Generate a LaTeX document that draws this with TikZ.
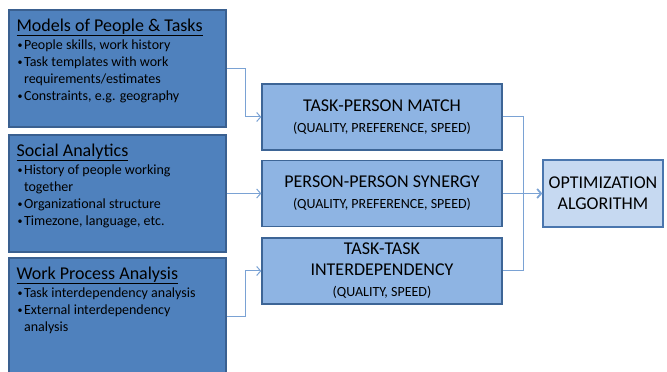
\documentclass[tikz,border=0pt]{standalone}
\usepackage{fontspec}
\setmainfont{Carlito}
\usepackage{tikz}
\usetikzlibrary{arrows.meta,positioning}

\definecolor{srcfill}{HTML}{4F81BD}
\definecolor{srcline}{HTML}{3A6090}
\definecolor{midfill}{HTML}{8EB4E3}
\definecolor{midline}{HTML}{3D6596}
\definecolor{optfill}{HTML}{C6D9F1}
\definecolor{optline}{HTML}{4A76AE}
\definecolor{wire}{HTML}{7AA2D4}

\newcommand{\bul}{\makebox[7.5pt][l]{\hspace{1pt}\raisebox{0.8pt}{\fontsize{10}{10}\selectfont\textbullet}}}
\newcommand{\cont}{\hspace*{7.5pt}}

\begin{document}
\begin{tikzpicture}[x=1pt,y=1pt,>={Straight Barb[length=4pt,width=9pt]},
  source/.style={draw=srcline,fill=srcfill,line width=1.3pt,
    minimum width=217pt,minimum height=117pt,inner sep=0pt},
  source text/.style={anchor=north west,align=left,inner sep=0pt,
    font=\fontsize{14}{17}\selectfont},
  factor/.style={draw=midline,fill=midfill,line width=1.3pt,
    minimum width=240pt,minimum height=66pt,align=center,
    font=\fontsize{18}{21}\selectfont},
  solver/.style={draw=optline,fill=optfill,line width=1.3pt,
    minimum width=120pt,minimum height=67pt,align=center,
    font=\fontsize{18}{21}\selectfont},
  link/.style={->,draw=wire,line width=1pt}]

  \useasboundingbox (0,0) rectangle (667,372);

  % input boxes on the left
  \node[source] (models) at (117.5,303.5) {};
  \node[source] (social) at (117.5,178.5) {};
  \node[source] (process) at (117.5,55.5) {};

  \node[source text] (models text) [below right=9pt and 8pt of models.north west]
    {{\fontsize{18}{21}\selectfont\underline{Models of People \& Tasks}}\\[1pt]
     \bul People skills, work history\\
     \bul Task templates with work\\
     \cont requirements/estimates\\
     \bul Constraints, e.g. geography};
  \node[source text] (social text) [below right=9pt and 8pt of social.north west]
    {{\fontsize{18}{21}\selectfont\underline{Social Analytics}}\\[1pt]
     \bul History of people working\\
     \cont together\\
     \bul Organizational structure\\
     \bul Timezone, language, etc.};
  \node[source text] (process text) [below right=9pt and 8pt of process.north west]
    {{\fontsize{18}{21}\selectfont\underline{Work Process Analysis}}\\[1pt]
     \bul Task interdependency\ analysis\\
     \bul External interdependency\\
     \cont analysis};

  % factor boxes
  \node[factor] (match) at (382,255)
    {TASK-PERSON MATCH\\{\fontsize{14}{17}\selectfont (QUALITY, PREFERENCE, SPEED)}};
  \node[factor] (synergy) at (382,178.5)
    {PERSON-PERSON SYNERGY\\{\fontsize{14}{17}\selectfont (QUALITY, PREFERENCE, SPEED)}};
  \node[factor] (interdep) at (382,101)
    {TASK-TASK\\INTERDEPENDENCY\\{\fontsize{14}{17}\selectfont (QUALITY, SPEED)}};

  \node[solver] (optim) at (603,178.5) {OPTIMIZATION\\ALGORITHM};

  \coordinate[right=21pt of synergy.east] (join);

  % connectors
  \draw[link] (models.east) -- ++(19,0) |- (match.west);
  \draw[link] (social) -- (synergy);
  \draw[link] (process.east) -- ++(19,0) |- (interdep.west);

  \draw[draw=wire,line width=1pt] (match.east) -| (join) |- (interdep.east);
  \draw[draw=wire,line width=1pt] (synergy.east) -- (join);
  \draw[link,line width=1.8pt] (join) -- (optim.west);
\end{tikzpicture}
\end{document}
